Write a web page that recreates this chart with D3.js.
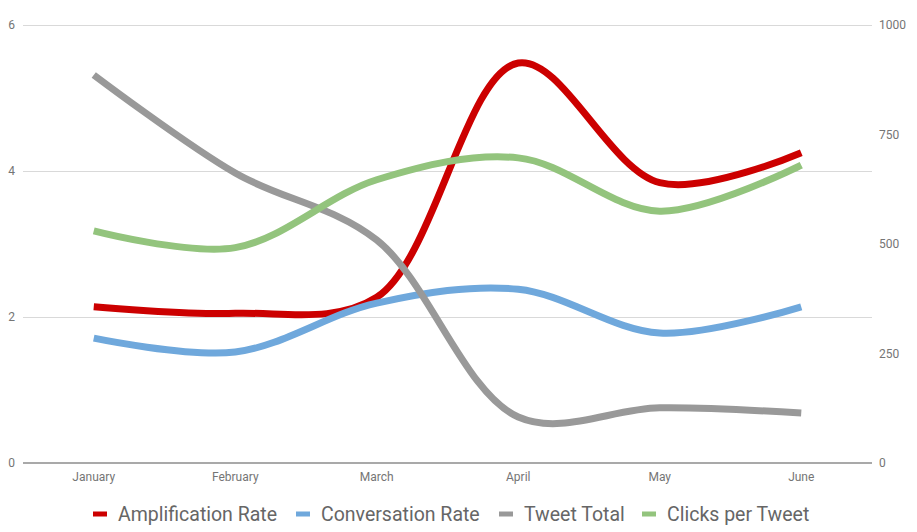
<!DOCTYPE html>
<html>
<head>
<meta charset="utf-8">
<script src="https://cdn.jsdelivr.net/npm/d3@7"></script>
<style>
  body { margin: 0; background: #fff; }
  text { font-family: Roboto, "Noto Sans", sans-serif; }
  .tick-label { font-size: 12px; fill: #757575; }
  .legend-label { font-size: 19.5px; fill: #666666; }
</style>
</head>
<body>
<svg id="chart"></svg>
<script>
const width = 917, height = 532,
      plot = {left: 23, right: 872, top: 25, bottom: 463};

// Data
const months = ["January", "February", "March", "April", "May", "June"];
const amplificationRate = [2.14, 2.05, 2.27, 5.48, 3.84, 4.25];
const conversationRate = [1.71, 1.52, 2.19, 2.38, 1.78, 2.14];
const tweetTotal = [886, 662, 509, 105, 126, 114];
const clicksPerTweet = [3.18, 2.95, 3.88, 4.18, 3.45, 4.08];
const leftTicks = [0, 2, 4, 6];
const rightTicks = [0, 250, 500, 750, 1000];

const series = [
  {name: "Amplification Rate", values: amplificationRate, color: "#cc0000", axis: "left"},
  {name: "Conversation Rate", values: conversationRate, color: "#6fa8dc", axis: "left"},
  {name: "Tweet Total", values: tweetTotal, color: "#999999", axis: "right"},
  {name: "Clicks per Tweet", values: clicksPerTweet, color: "#93c47d", axis: "left"}
];

let svg = d3.select("#chart")
            .attr("width", width)
            .attr("height", height);

// Scales
let x = d3.scalePoint()
          .domain(months)
          .range([plot.left, plot.right])
          .padding(0.5);

let yLeft = d3.scaleLinear()
              .domain([0, 6])
              .range([plot.bottom, plot.top]);

let yRight = d3.scaleLinear()
               .domain([0, 1000])
               .range([plot.bottom, plot.top]);

// Gridlines (left axis)
svg.append("g")
   .selectAll("line")
   .data(leftTicks.filter((d) => d !== 0))
   .enter().append("line")
   .attr("x1", plot.left)
   .attr("x2", plot.right)
   .attr("y1", (d) => Math.round(yLeft(d)) + 0.5)
   .attr("y2", (d) => Math.round(yLeft(d)) + 0.5)
   .style("stroke", "#d9d9d9")
   .style("stroke-width", 1);

// Baseline
svg.append("line")
   .attr("x1", plot.left)
   .attr("x2", plot.right)
   .attr("y1", yLeft(0))
   .attr("y2", yLeft(0))
   .style("stroke", "#8c8c8c")
   .style("stroke-width", 1.5);

// Left tick labels
svg.append("g")
   .selectAll("text")
   .data(leftTicks)
   .enter().append("text")
   .attr("class", "tick-label")
   .attr("x", 15)
   .attr("y", (d) => yLeft(d) + 4)
   .style("text-anchor", "end")
   .text((d) => d);

// Right tick labels
svg.append("g")
   .selectAll("text")
   .data(rightTicks)
   .enter().append("text")
   .attr("class", "tick-label")
   .attr("x", 879)
   .attr("y", (d) => yRight(d) + 4)
   .style("text-anchor", "start")
   .text((d) => d);

// Month labels
svg.append("g")
   .selectAll("text")
   .data(months)
   .enter().append("text")
   .attr("class", "tick-label")
   .attr("x", (d) => x(d))
   .attr("y", 481)
   .style("text-anchor", "middle")
   .text((d) => d);

// Lines
series.forEach((s) => {
  let yScale = s.axis === "left" ? yLeft : yRight;
  let line = d3.line()
               .x((d, i) => x(months[i]))
               .y((d) => yScale(d))
               .curve(d3.curveCatmullRom.alpha(0.5));
  svg.append("path")
     .datum(s.values)
     .attr("d", line)
     .style("fill", "none")
     .style("stroke", s.color)
     .style("stroke-width", 7);
});

// Legend
const legendX = [93, 296, 499, 642];
let legend = svg.append("g")
                .selectAll("g")
                .data(series)
                .enter().append("g")
                .attr("transform", (d, i) => "translate(" + legendX[i] + ", 514)");

legend.append("rect")
      .attr("x", 0)
      .attr("y", -2.5)
      .attr("width", 14)
      .attr("height", 5)
      .style("fill", (d) => d.color);

legend.append("text")
      .attr("class", "legend-label")
      .attr("x", 25)
      .attr("y", 7)
      .text((d) => d.name);
</script>
</body>
</html>
